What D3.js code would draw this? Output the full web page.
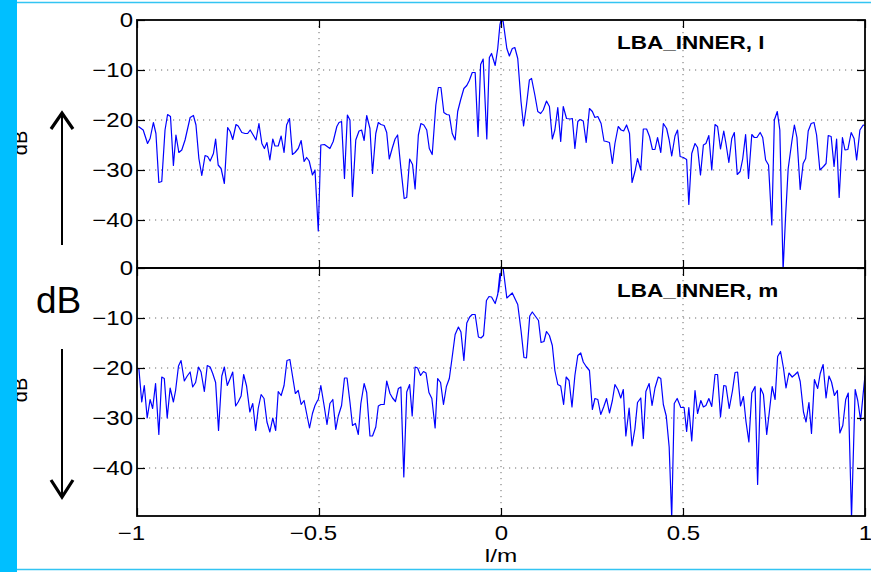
<!DOCTYPE html>
<html>
<head>
<meta charset="utf-8">
<script src="https://cdnjs.cloudflare.com/ajax/libs/d3/7.8.5/d3.min.js"></script>
<style>
  body { margin: 0; background: #fff; }
  svg text { font-family: "Liberation Sans", Arial, Helvetica, sans-serif; }
</style>
</head>
<body>
<svg id="chart" width="871" height="572"></svg>
<script>
// l-direction cut (top panel)
var lPosL = [
  -0.996,-0.983,-0.971,-0.964,-0.955,-0.948,-0.940,-0.932,-0.923,-0.916,
  -0.908,-0.900,-0.893,-0.885,-0.877,-0.868,-0.854,-0.845,-0.838,-0.830,
  -0.822,-0.813,-0.806,-0.799,-0.790,-0.784,-0.777,-0.769,-0.760,-0.751,
  -0.744,-0.737,-0.728,-0.722,-0.712,-0.703,-0.696,-0.689,-0.680,-0.673,
  -0.665,-0.657,-0.650,-0.643,-0.635,-0.627,-0.621,-0.612,-0.604,-0.596,
  -0.589,-0.581,-0.573,-0.566,-0.557,-0.549,-0.541,-0.534,-0.527,-0.518,
  -0.511,-0.502,
  -0.495,-0.485,-0.470,-0.461,-0.451,-0.445,-0.438,-0.430,-0.422,-0.415,
  -0.408,-0.399,-0.390,-0.383,-0.376,-0.369,-0.360,-0.353,-0.344,-0.337,
  -0.330,-0.321,-0.314,-0.307,-0.299,-0.291,-0.284,-0.275,-0.266,-0.259,
  -0.251,-0.243,-0.236,-0.227,-0.220,-0.212,-0.204,-0.197,-0.189,-0.179,
  -0.172,-0.165,-0.157,-0.149,-0.142,-0.134,-0.126,-0.119,-0.111,-0.102,
  -0.094,-0.087,-0.079,-0.071,-0.063,-0.056,-0.049,-0.039,-0.032,-0.026,
  -0.016,-0.009,-0.003,
  0.000,0.006,0.016,0.023,0.031,0.038,0.046,0.055,0.062,0.070,
  0.078,0.084,0.093,0.101,0.109,0.116,0.125,0.133,0.141,0.148,
  0.156,0.164,0.171,0.180,0.190,0.196,0.203,0.211,0.217,0.226,
  0.234,0.243,0.251,0.258,0.266,0.275,0.283,0.290,0.298,0.306,
  0.313,0.322,0.330,0.337,0.345,0.353,0.360,0.368,0.375,0.384,
  0.391,0.400,0.408,0.416,0.423,0.430,0.439,0.446,0.455,0.462,
  0.469,0.478,0.485,
  0.492,0.501,0.510,0.516,0.524,0.533,0.540,0.548,0.556,0.563,
  0.571,0.579,0.588,0.595,0.603,0.612,0.618,0.626,0.634,0.641,
  0.649,0.657,0.664,0.672,0.680,0.689,0.696,0.703,0.712,0.719,
  0.727,0.735,0.744,0.751,0.759,0.766,0.775,0.782,0.789,0.799,
  0.806,0.813,0.822,0.830,0.837,0.844,0.852,0.860,0.867,0.876,
  0.886,0.893,0.899,0.907,0.915,0.922,0.929,0.938,0.945,0.953,
  0.962,0.970,0.977,0.986,0.995,1.000
];
var dbL = [
  -21.3,-22,-24.7,-23.7,-20.5,-22.7,-32.5,-32.3,-22,-18.9,
  -19.3,-29.1,-23,-26.5,-26,-24,-19.5,-19.1,-21,-27.7,
  -31.1,-27.1,-27.3,-28.2,-26.7,-23.8,-29,-29.7,-32.7,-21.5,
  -22.3,-23.9,-20.9,-21.2,-22.5,-22.7,-22.7,-22,-23.1,-24,
  -20.7,-24.7,-25.7,-24.5,-28,-23.8,-25.2,-25.2,-23.2,-26.5,
  -21,-19.7,-26.9,-26.5,-25.7,-24.1,-28.3,-27.5,-28.2,-31,
  -30,-42.2,
  -25,-24.9,-25.7,-24.3,-21.3,-20.5,-20.3,-31.7,-19,-20,
  -35.3,-24,-22.2,-22,-24.1,-19.1,-21.7,-30.7,-22.7,-20.5,
  -20.9,-21.1,-22.5,-27.8,-25.7,-23.8,-23,-29.7,-35.7,-35.5,
  -27.8,-28.9,-33.8,-23,-20.7,-21,-22,-25.7,-26.9,-17,
  -13.5,-13.5,-18.5,-18.9,-19,-22.7,-24,-18.3,-16,-13.7,
  -13.1,-12.1,-10.5,-10.5,-23.3,-8.9,-7.8,-23.8,-7.5,-6.7,
  -9.1,-5.7,-1,
  0,-0.3,-5.7,-7.2,-5.7,-5.5,-7.7,-16.3,-21.2,-17,
  -12,-11.7,-15,-18.3,-18.7,-18,-16.2,-17.3,-23.8,-22,
  -17.5,-24.3,-17.3,-19.7,-19.8,-19.7,-25.7,-20.3,-19.9,-20.2,
  -24.5,-17.7,-18.3,-19.5,-19.3,-20.7,-24.2,-24.3,-24.5,-28.7,
  -24.7,-21.3,-22,-22.2,-21,-22.7,-32.5,-30.3,-27.7,-30,
  -21.8,-21.8,-23.3,-25.9,-25.9,-23.5,-26.5,-20.7,-21.7,-24,
  -27.2,-23.2,-22,
  -27.3,-27.5,-27.9,-36.9,-26.7,-24.7,-25.5,-31,-25,-24.7,
  -23.1,-30,-20.9,-21.3,-25.8,-22.2,-24.7,-28.5,-23.7,-22.5,
  -30.9,-30.3,-27.8,-22.9,-31.7,-22.9,-23.5,-23.5,-22.5,-23.5,
  -28,-29,-41,-20,-18.3,-22,-50,-39,-29.7,-24.3,
  -21,-23.5,-33.9,-28.7,-27.7,-22.2,-20.7,-20.5,-23,-30,
  -29.3,-28.7,-23.1,-23.3,-29.3,-23.8,-35.5,-23.5,-26,-25.9,
  -22.5,-23.7,-28,-22,-21,-21.1
];

// m-direction cut (bottom panel)
var lPosM = [
  -0.995,-0.987,-0.980,-0.972,-0.964,-0.957,-0.949,-0.940,-0.932,-0.925,
  -0.917,-0.909,-0.900,-0.894,-0.886,-0.879,-0.870,-0.862,-0.854,-0.847,
  -0.839,-0.831,-0.824,-0.815,-0.807,-0.799,-0.792,-0.784,-0.776,-0.767,
  -0.760,-0.752,-0.744,-0.737,-0.729,-0.722,-0.714,-0.707,-0.699,-0.690,
  -0.682,-0.674,-0.667,-0.659,-0.651,-0.643,-0.635,-0.627,-0.619,-0.612,
  -0.604,-0.596,-0.588,-0.580,-0.573,-0.565,-0.557,-0.549,-0.541,-0.534,
  -0.526,-0.518,-0.511,-0.504,
  -0.502,-0.495,-0.486,-0.478,-0.470,-0.462,-0.454,-0.447,-0.438,-0.430,
  -0.423,-0.415,-0.408,-0.400,-0.392,-0.385,-0.376,-0.369,-0.360,-0.353,
  -0.344,-0.337,-0.330,-0.321,-0.314,-0.305,-0.298,-0.290,-0.282,-0.275,
  -0.267,-0.259,-0.251,-0.244,-0.236,-0.229,-0.221,-0.213,-0.206,-0.198,
  -0.190,-0.181,-0.174,-0.166,-0.158,-0.150,-0.142,-0.135,-0.126,-0.117,
  -0.110,-0.102,-0.094,-0.086,-0.079,-0.071,-0.062,-0.055,-0.048,-0.040,
  -0.033,-0.026,-0.016,-0.009,-0.003,
  -0.007,0.002,0.006,0.016,0.031,0.046,0.055,0.063,0.070,0.079,
  0.086,0.095,0.103,0.110,0.118,0.125,0.133,0.141,0.148,0.156,
  0.164,0.172,0.179,0.187,0.195,0.203,0.211,0.219,0.226,0.234,
  0.243,0.251,0.258,0.266,0.274,0.282,0.290,0.298,0.306,0.313,
  0.321,0.329,0.336,0.343,0.352,0.360,0.368,0.375,0.384,0.391,
  0.398,0.407,0.415,0.423,0.432,0.439,0.446,0.454,0.462,0.469,
  0.476,0.484,
  0.494,0.503,0.510,0.516,0.524,0.533,0.540,0.549,0.556,0.563,
  0.571,0.579,0.588,0.595,0.603,0.612,0.618,0.627,0.636,0.643,
  0.650,0.658,0.666,0.673,0.681,0.689,0.698,0.705,0.713,0.721,
  0.730,0.737,0.745,0.753,0.760,0.768,0.776,0.783,0.791,0.800,
  0.808,0.815,0.822,0.831,0.838,0.846,0.853,0.861,0.870,0.877,
  0.885,0.893,0.901,0.908,0.916,0.924,0.931,0.939,0.947,0.954,
  0.963,0.973,0.980,0.988,0.995,1.000
];
var dbM = [
  -20,-26.8,-23.5,-30,-26.3,-28.1,-23.1,-33.3,-21.8,-22.1,
  -30,-24,-26.8,-24.5,-19.6,-18.5,-22.6,-21.6,-20.8,-23.8,
  -22.9,-19.8,-20.8,-24.7,-19.5,-19.8,-21.1,-22.9,-32.5,-21.6,
  -19.8,-23.5,-22.1,-20.8,-27.6,-26.8,-25.6,-21.3,-23.6,-28.8,
  -27.1,-32.5,-28.1,-25.3,-26.1,-30.8,-32.8,-30,-32.5,-24.7,
  -25.5,-23.5,-18.5,-18.3,-21.5,-25.1,-24.5,-27.3,-26.5,-29.1,
  -32,-29.1,-27.5,-26.5,
  -26.3,-23.5,-27.5,-31.3,-27.1,-26.3,-32.3,-29.6,-27.5,-22,
  -22,-26.8,-31.5,-31.1,-33.3,-27.1,-23.1,-24.9,-33.6,-33.6,
  -31.8,-27.6,-27.3,-27.3,-22.6,-25.1,-26,-26.7,-24.1,-23.8,
  -41.8,-24.8,-23.3,-29.6,-19.8,-20,-21.5,-20.7,-21,-24.9,
  -26.1,-32,-22.1,-22.9,-27.3,-23.7,-22.1,-18.3,-13.3,-11.8,
  -12.8,-18.5,-11,-9.8,-9.3,-9.3,-13.8,-14,-13.5,-6.5,
  -5.7,-5.8,-7.1,-5.3,-1.1,
  -4.8,0,-0.1,-6,-5,-7.3,-12.5,-17.9,-18,-9.6,
  -8.8,-9.7,-10.5,-14.9,-14.7,-12.7,-13.5,-15.5,-20.5,-23.3,
  -23.6,-27.3,-21.8,-22.5,-27.8,-21.5,-17.5,-17,-18.8,-19.7,
  -20.5,-28.3,-26.1,-26.3,-29.3,-27.8,-26.1,-29,-26.5,-23.3,
  -24.3,-26,-24.3,-33.6,-28,-35.6,-32.1,-26.9,-26,-34.1,
  -24.7,-23.1,-27.5,-24,-21.8,-22.1,-27.3,-29.6,-35.8,-50,
  -27.1,-26.1,
  -27.9,-27.9,-32.7,-27.9,-34.6,-24.5,-29.1,-26.5,-27.8,-27.5,
  -26.1,-27.7,-21.3,-21.3,-29.8,-23.5,-23.6,-28.1,-24.5,-20.9,
  -20.8,-27.6,-25.7,-30.7,-34.8,-25,-23.7,-43.3,-24,-25.3,
  -33.3,-28.9,-23.7,-26.3,-17.7,-16.7,-20,-24,-21,-21.8,
  -21.3,-20.8,-22.7,-28.8,-30.8,-26.9,-33.1,-22.3,-24.1,-21.1,
  -19.3,-26,-21.6,-22.8,-25.5,-24.5,-33,-31.5,-26.3,-25,
  -50,-24.3,-26.5,-30.5,-25.1,-21.5
];

var xTicks = [-1, -0.5, 0, 0.5, 1];
var yTicks = [0, -10, -20, -30, -40];
var panelNames = ["LBA_INNER, l", "LBA_INNER, m"];

var svg = d3.select("#chart");

var plotLeft = 137, plotRight = 865;
var panelTop = [20, 268], panelH = 248;
var stretch = 1.2; // text in the picture is drawn a bit wide

var x = d3.scaleLinear().domain([-1, 1]).range([plotLeft, plotRight]);
var fmt = function(d) { return d3.format("~g")(d); };

var panels = [
  {top: panelTop[0], xs: lPosL, ys: dbL, name: panelNames[0], showX: false},
  {top: panelTop[1], xs: lPosM, ys: dbM, name: panelNames[1], showX: true}
];

panels.forEach(function(p, pi) {
  var y = d3.scaleLinear().domain([-49.6, 0]).range([p.top + panelH, p.top]);
  var g = svg.append("g");

  g.append("clipPath").attr("id", "clip" + pi)
    .append("rect")
    .attr("x", plotLeft).attr("y", p.top)
    .attr("width", plotRight - plotLeft).attr("height", panelH);

  // dotted grid
  var grid = g.append("g").attr("stroke", "#6a6a6a").attr("stroke-width", 1)
    .attr("stroke-dasharray", "1.2,4.8");
  grid.selectAll("line.gx").data(xTicks.slice(1, -1)).enter().append("line")
    .attr("x1", function(d) { return x(d); }).attr("x2", function(d) { return x(d); })
    .attr("y1", p.top).attr("y2", p.top + panelH);
  grid.selectAll("line.gy").data(yTicks.slice(1)).enter().append("line")
    .attr("y1", function(d) { return y(d); }).attr("y2", function(d) { return y(d); })
    .attr("x1", plotLeft).attr("x2", plotRight);

  // trace
  var pts = p.xs.map(function(v, i) { return [v, p.ys[i]]; });
  var line = d3.line().x(function(d) { return x(d[0]); }).y(function(d) { return y(d[1]); });
  g.append("path").datum(pts)
    .attr("clip-path", "url(#clip" + pi + ")")
    .attr("fill", "none").attr("stroke", "#0000ff").attr("stroke-width", 1.2)
    .attr("stroke-linejoin", "round")
    .attr("d", line);

  // axes, ticks inward like matlab
  var left = g.append("g").attr("transform", "translate(" + plotLeft + ",0)")
    .call(d3.axisLeft(y).tickValues(yTicks).tickSize(-8).tickSizeOuter(0).tickPadding(4).tickFormat(fmt));
  var right = g.append("g").attr("transform", "translate(" + plotRight + ",0)")
    .call(d3.axisRight(y).tickValues(yTicks).tickSize(-8).tickSizeOuter(0).tickFormat(""));
  var top = g.append("g").attr("transform", "translate(0," + p.top + ")")
    .call(d3.axisTop(x).tickValues(xTicks).tickSize(-8).tickSizeOuter(0).tickFormat(""));
  var bottom = g.append("g").attr("transform", "translate(0," + (p.top + panelH) + ")")
    .call(d3.axisBottom(x).tickValues(xTicks).tickSize(-8).tickSizeOuter(0).tickPadding(10)
      .tickFormat(p.showX ? fmt : ""));

  [left, right, top, bottom].forEach(function(a) {
    a.select(".domain").remove();
    a.selectAll("line").attr("stroke", "#000").attr("stroke-width", 1.2);
    a.selectAll("text").attr("font-size", 20).attr("fill", "#000")
      .attr("font-family", "'Liberation Sans', Arial, sans-serif");
  });
  left.selectAll("text").attr("transform", "scale(" + stretch + ",1)")
    .attr("x", -4 / stretch);
  // x labels centred on the digits, the minus sign hangs to the left
  bottom.selectAll("text")
    .attr("transform", "scale(" + stretch + ",1)")
    .attr("dx", function(d) { return d < 0 ? -6 / stretch : 0; });

  g.append("rect")
    .attr("x", plotLeft).attr("y", p.top)
    .attr("width", plotRight - plotLeft).attr("height", panelH)
    .attr("fill", "none").attr("stroke", "#000").attr("stroke-width", 1.8);

  g.append("text")
    .attr("transform", "translate(617," + (p.top + 29) + ") scale(1.25,1)")
    .attr("font-size", 18).attr("font-weight", "bold").attr("fill", "#000")
    .text(p.name);
});

// x label
svg.append("text")
  .attr("transform", "translate(" + x(0) + ",562) scale(1.28,1)")
  .attr("text-anchor", "middle").attr("font-size", 19).text("l/m");

// annotations on the left
svg.append("text").attr("x", 36).attr("y", 313).attr("font-size", 37).text("dB");
[143, 390].forEach(function(cy) {
  svg.append("text").attr("transform", "translate(27," + cy + ") rotate(-90)")
    .attr("text-anchor", "middle").attr("font-size", 20).text("dB");
});

var arrows = svg.append("g").attr("stroke", "#000").attr("fill", "none");
arrows.append("line").attr("x1", 62).attr("x2", 62).attr("y1", 245).attr("y2", 114).attr("stroke-width", 2);
arrows.append("path").attr("d", "M51,129 L62,113 L73,129").attr("stroke-width", 3.2);
arrows.append("line").attr("x1", 62).attr("x2", 62).attr("y1", 349).attr("y2", 497).attr("stroke-width", 2);
arrows.append("path").attr("d", "M51,480 L62,497 L73,480").attr("stroke-width", 3.2);

// cyan frame
svg.append("rect").attr("x", 0).attr("y", 0).attr("width", 17).attr("height", 572).attr("fill", "#00bfff");
svg.append("line").attr("x1", 17).attr("x2", 871).attr("y1", 2.5).attr("y2", 2.5)
  .attr("stroke", "#33c4f2").attr("stroke-width", 1.5);
svg.append("line").attr("x1", 17).attr("x2", 871).attr("y1", 569.5).attr("y2", 569.5)
  .attr("stroke", "#33c4f2").attr("stroke-width", 1.5);
</script>
</body>
</html>
